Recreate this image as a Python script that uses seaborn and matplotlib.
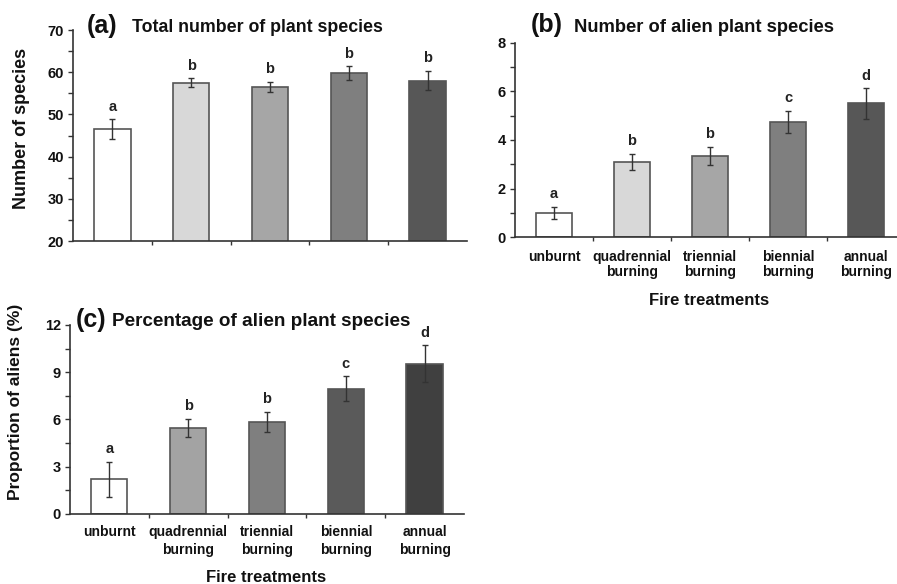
import matplotlib
matplotlib.use("Agg")
import matplotlib.pyplot as plt
import seaborn as sns
import pandas as pd
import numpy as np
from matplotlib.ticker import MultipleLocator, FixedLocator

sns.set_theme(style="ticks")
plt.rcParams['font.family'] = ['Liberation Sans', 'DejaVu Sans']
plt.rcParams['font.weight'] = 'bold'
plt.rcParams['text.color'] = '#111111'
plt.rcParams['xtick.color'] = '#111111'
plt.rcParams['ytick.color'] = '#111111'

categories = ["unburnt", "quadrennial\nburning", "triennial\nburning",
              "biennial\nburning", "annual\nburning"]

total_mean = [46.5, 57.5, 56.5, 59.8, 58.0]
total_se = [2.3, 1.1, 1.3, 1.6, 2.3]
total_letters = ["a", "b", "b", "b", "b"]

alien_mean = [1.0, 3.1, 3.35, 4.75, 5.5]
alien_se = [0.25, 0.33, 0.37, 0.46, 0.62]
alien_letters = ["a", "b", "b", "c", "d"]

pct_mean = [2.2, 5.45, 5.85, 7.95, 9.55]
pct_se = [1.13, 0.58, 0.65, 0.8, 1.15]
pct_letters = ["a", "b", "b", "c", "d"]

colors_ab = ["#ffffff", "#d8d8d8", "#a6a6a6", "#7f7f7f", "#575757"]
colors_c = ["#ffffff", "#a3a3a3", "#7f7f7f", "#5a5a5a", "#404040"]

fig = plt.figure(figsize=(8.97, 5.84), dpi=100)
ax_a = fig.add_axes([0.0814, 0.5873, 0.4392, 0.3613])
ax_b = fig.add_axes([0.5741, 0.5937, 0.4259, 0.3332])
ax_c = fig.add_axes([0.0780, 0.1199, 0.4393, 0.3236])


def panel(ax, means, ses, letters, colors, ylim, major, minor, xright=4.5,
          show_x=True, lsp=1.1, pad=8):
    df = pd.DataFrame({"cat": categories, "val": means})
    sns.barplot(data=df, x="cat", y="val", hue="cat", palette=colors,
                order=categories, hue_order=categories, legend=False,
                width=0.46, edgecolor="#555555", linewidth=1.2, ax=ax,
                errorbar=None, saturation=1)
    ax.errorbar(np.arange(len(means)), means, yerr=ses, fmt="none",
                ecolor="#333333", elinewidth=1.0, capsize=2.5, capthick=1.0)
    for i, (m, s, l) in enumerate(zip(means, ses, letters)):
        ax.annotate(l, (i, m + s), xytext=(0, 4), textcoords="offset points",
                    ha="center", va="bottom", fontsize=10.5, fontweight="bold",
                    color="#222222")
    ax.set_ylim(*ylim)
    ax.set_xlim(-0.5, xright)
    ax.yaxis.set_major_locator(MultipleLocator(major))
    ax.yaxis.set_minor_locator(MultipleLocator(minor))
    ax.xaxis.set_minor_locator(FixedLocator([0.5, 1.5, 2.5, 3.5]))
    ax.tick_params(axis="x", which="major", length=0, pad=pad)
    ax.tick_params(axis="x", which="minor", length=3, width=1, direction="out", color="#333333")
    ax.tick_params(axis="y", which="both", length=3.5, width=1, direction="out", color="#333333",
                   labelsize=10.5, pad=3)
    for lab in ax.get_yticklabels():
        lab.set_fontweight("bold")
    sns.despine(ax=ax)
    for sp in ["left", "bottom"]:
        ax.spines[sp].set_linewidth(1.2)
        ax.spines[sp].set_color("#333333")
    ax.set_xlabel("")
    ax.set_ylabel("")
    if show_x:
        ax.set_xticks(range(len(categories)))
        ax.set_xticklabels(categories, fontsize=10, fontweight="bold",
                           linespacing=lsp)
    else:
        ax.set_xticklabels([])


panel(ax_a, total_mean, total_se, total_letters, colors_ab, (20, 70), 10, 5, show_x=False)
panel(ax_b, alien_mean, alien_se, alien_letters, colors_ab, (0, 8), 2, 1, xright=4.397,
      lsp=1.15, pad=9)
panel(ax_c, pct_mean, pct_se, pct_letters, colors_c, (0, 12), 3, 1.5, lsp=1.4, pad=8)

# Titles
fig.text(87 / 897, 1 - 26 / 584, "(a)", fontsize=18, fontweight="bold", va="center", ha="left")
fig.text(132 / 897, 1 - 28 / 584, "Total number of plant species", fontsize=12.8,
         fontweight="bold", va="center", ha="left")
fig.text(531 / 897, 1 - 25 / 584, "(b)", fontsize=18, fontweight="bold", va="center", ha="left")
fig.text(574 / 897, 1 - 27 / 584, "Number of alien plant species", fontsize=13.2,
         fontweight="bold", va="center", ha="left")
fig.text(76 / 897, 1 - 320 / 584, "(c)", fontsize=18, fontweight="bold", va="center", ha="left")
fig.text(112 / 897, 1 - 321 / 584, "Percentage of alien plant species", fontsize=13.6,
         fontweight="bold", va="center", ha="left")

# Axis labels
fig.text(22 / 897, 1 - 128 / 584, "Number of species", rotation=90, fontsize=13,
         fontweight="bold", va="center", ha="center")
fig.text(16 / 897, 1 - 402 / 584, "Proportion of aliens (%)", rotation=90, fontsize=12.5,
         fontweight="bold", va="center", ha="center")
fig.text(709 / 897, 1 - 300 / 584, "Fire treatments", fontsize=12,
         fontweight="bold", va="center", ha="center")
fig.text(266 / 897, 1 - 578 / 584, "Fire treatments", fontsize=12,
         fontweight="bold", va="center", ha="center")

fig.savefig("out.png", dpi=100)
